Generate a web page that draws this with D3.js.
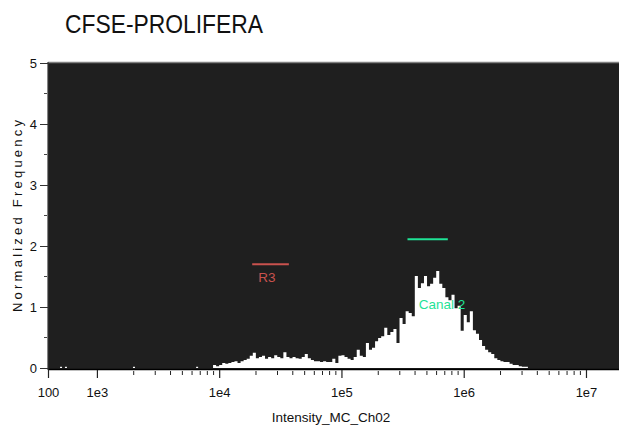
<!DOCTYPE html>
<html>
<head>
<meta charset="utf-8">
<script src="https://cdn.jsdelivr.net/npm/d3@7"></script>
<style>
  body { margin: 0; background: #fff; }
  svg { display: block; font-family: "Liberation Sans", Arial, sans-serif; }
</style>
</head>
<body>
<div class="chart"></div>
<script>
// histogram: bins 1/40 decade wide, first bin starting at log10 = 3.95
var firstBinLog = 3.95;
var binWidth = 0.025;
var freq = [
  0.05, 0.03, 0.05, 0.08, 0.07, 0.08, 0.10, 0.11, 0.08, 0.11,
  0.13, 0.15, 0.20, 0.25, 0.16, 0.18, 0.20, 0.15, 0.18, 0.16,
  0.21, 0.18, 0.16, 0.26, 0.18, 0.16, 0.18, 0.16, 0.15, 0.18,
  0.23, 0.16, 0.13, 0.11, 0.11, 0.10, 0.11, 0.10, 0.10, 0.15,
  0.08, 0.20, 0.21, 0.18, 0.15, 0.13, 0.18, 0.30, 0.20, 0.18,
  0.41, 0.30, 0.33, 0.44, 0.49, 0.52, 0.66, 0.54, 0.59, 0.64,
  0.41, 0.82, 0.72, 0.93, 0.90, 0.85, 1.51, 1.31, 1.39, 1.51,
  1.34, 1.38, 1.48, 1.59, 1.38, 1.31, 1.16, 1.11, 1.20, 0.98,
  1.02, 0.61, 0.87, 0.75, 0.93, 0.62, 0.56, 0.46, 0.36, 0.30,
  0.26, 0.23, 0.16, 0.13, 0.11, 0.10, 0.10, 0.07, 0.05, 0.05,
  0.03, 0.02, 0.02
];
// isolated events in the low channels
var sparseIntensity = [340, 430, 2010, 6600];
var sparseFreq = [0.02, 0.02, 0.02, 0.02];

var xTickValues = [100, 1e3, 1e4, 1e5, 1e6, 1e7];
var xTickLabels = ["100", "1e3", "1e4", "1e5", "1e6", "1e7"];
var yTickValues = [0, 1, 2, 3, 4, 5];

var gates = [
  {name: "R3", from: 10 ** 4.27, to: 10 ** 4.57, level: 1.7, color: "#c9524e"},
  {name: "Canal 2", from: 10 ** 5.54, to: 10 ** 5.87, level: 2.11, color: "#1fe396"}
];

var width = 619, height = 428;
var svg = d3.select(".chart").append("svg")
    .attr("width", width)
    .attr("height", height);

// display axis: log above 1e3, compressed linear segment from 100 to 1e3
function toU(v) {
  return v >= 1e3 ? Math.log10(v) : 2.6 + 0.4 * (v - 100) / 900;
}

var x = d3.scaleLinear().domain([2.6, 7.27]).range([48, 619]);
var y = d3.scaleLinear().domain([0, 5]).range([368, 63]);

// plot background
svg.append("rect")
    .attr("x", 48).attr("y", 62)
    .attr("width", 571).attr("height", 307)
    .attr("fill", "#1f1f1f");
svg.append("line")
    .attr("x1", 48).attr("x2", 619)
    .attr("y1", 62.5).attr("y2", 62.5)
    .attr("stroke", "#808080").attr("stroke-width", 1.5);

// histogram
var bins = freq.map(function(f, i) { return {u: firstBinLog + i * binWidth, f: f}; });
bins.push({u: firstBinLog + freq.length * binWidth, f: 0});

var area = d3.area()
    .x(function(d) { return x(d.u); })
    .y0(y(0))
    .y1(function(d) { return y(d.f); })
    .curve(d3.curveStepAfter);

svg.append("path")
    .datum(bins)
    .attr("d", area)
    .attr("fill", "#fff");

svg.selectAll(".speck")
    .data(sparseIntensity)
    .enter().append("rect")
    .attr("x", function(d) { return x(toU(d)) - 1; })
    .attr("width", 2)
    .attr("y", function(d, i) { return y(sparseFreq[i]); })
    .attr("height", function(d, i) { return y(0) - y(sparseFreq[i]); })
    .attr("fill", "#fff");

// gates
gates.forEach(function(gt) {
  svg.append("line")
      .attr("x1", x(toU(gt.from))).attr("x2", x(toU(gt.to)))
      .attr("y1", y(gt.level)).attr("y2", y(gt.level))
      .attr("stroke", gt.color).attr("stroke-width", 2);
});
svg.append("text")
    .attr("x", 267).attr("y", 282)
    .attr("text-anchor", "middle")
    .attr("font-size", 13.5)
    .attr("fill", gates[0].color)
    .text(gates[0].name);
svg.append("text")
    .attr("x", 442).attr("y", 309)
    .attr("text-anchor", "middle")
    .attr("font-size", 13.5)
    .attr("fill", gates[1].color)
    .text(gates[1].name);

// x axis
svg.append("line")
    .attr("x1", 48).attr("x2", 619)
    .attr("y1", 369.5).attr("y2", 369.5)
    .attr("stroke", "#000").attr("stroke-width", 1.6);

var minor = [];
for (var e = 3; e < 7.27; e++) {
  for (var m = 2; m <= 9; m++) {
    var u = e + Math.log10(m);
    if (u < 7.27) minor.push(u);
  }
}
svg.selectAll(".xminor")
    .data(minor)
    .enter().append("line")
    .attr("x1", function(d) { return x(d); }).attr("x2", function(d) { return x(d); })
    .attr("y1", 371).attr("y2", 375)
    .attr("stroke", "#222").attr("stroke-width", 1);

var xAxis = d3.axisBottom(x)
    .tickValues(xTickValues.map(toU))
    .tickSize(8)
    .tickFormat(function(d, i) { return xTickLabels[i]; });
var gx = svg.append("g")
    .attr("transform", "translate(0,370)")
    .call(xAxis);
gx.select(".domain").remove();
gx.selectAll(".tick line").attr("stroke", "#222").attr("stroke-width", 1.2);
gx.selectAll(".tick text")
    .attr("y", 18)
    .attr("font-size", 13)
    .attr("font-family", "Liberation Sans, Arial, sans-serif")
    .attr("fill", "#111");

svg.append("text")
    .attr("x", 331).attr("y", 422)
    .attr("text-anchor", "middle")
    .attr("font-size", 13.5)
    .attr("fill", "#111")
    .text("Intensity_MC_Ch02");

// y axis
svg.append("line")
    .attr("x1", 48).attr("x2", 48)
    .attr("y1", 62).attr("y2", 370)
    .attr("stroke", "#333").attr("stroke-width", 1.2);

var yAxis = d3.axisLeft(y)
    .tickValues(yTickValues)
    .tickSize(8)
    .tickFormat(d3.format("d"));
var gy = svg.append("g")
    .attr("transform", "translate(48,0)")
    .call(yAxis);
gy.select(".domain").remove();
gy.selectAll(".tick line").attr("stroke", "#333");
gy.selectAll(".tick text")
    .attr("x", -11)
    .attr("font-size", 13)
    .attr("font-family", "Liberation Sans, Arial, sans-serif")
    .attr("fill", "#111");

svg.selectAll(".yminor")
    .data(yTickValues.slice(0, -1).map(function(d) { return d + 0.5; }))
    .enter().append("line")
    .attr("x1", 44).attr("x2", 47)
    .attr("y1", function(d) { return y(d); }).attr("y2", function(d) { return y(d); })
    .attr("stroke", "#444");

svg.append("text")
    .attr("transform", "translate(22,216) rotate(-90)")
    .attr("text-anchor", "middle")
    .attr("font-size", 13)
    .attr("textLength", 192)
    .attr("lengthAdjust", "spacing")
    .attr("fill", "#111")
    .text("Normalized Frequency");

// title
svg.append("text")
    .attr("x", 65).attr("y", 33)
    .attr("font-size", 25)
    .attr("textLength", 198)
    .attr("lengthAdjust", "spacingAndGlyphs")
    .attr("fill", "#111")
    .text("CFSE-PROLIFERA");
</script>
</body>
</html>
